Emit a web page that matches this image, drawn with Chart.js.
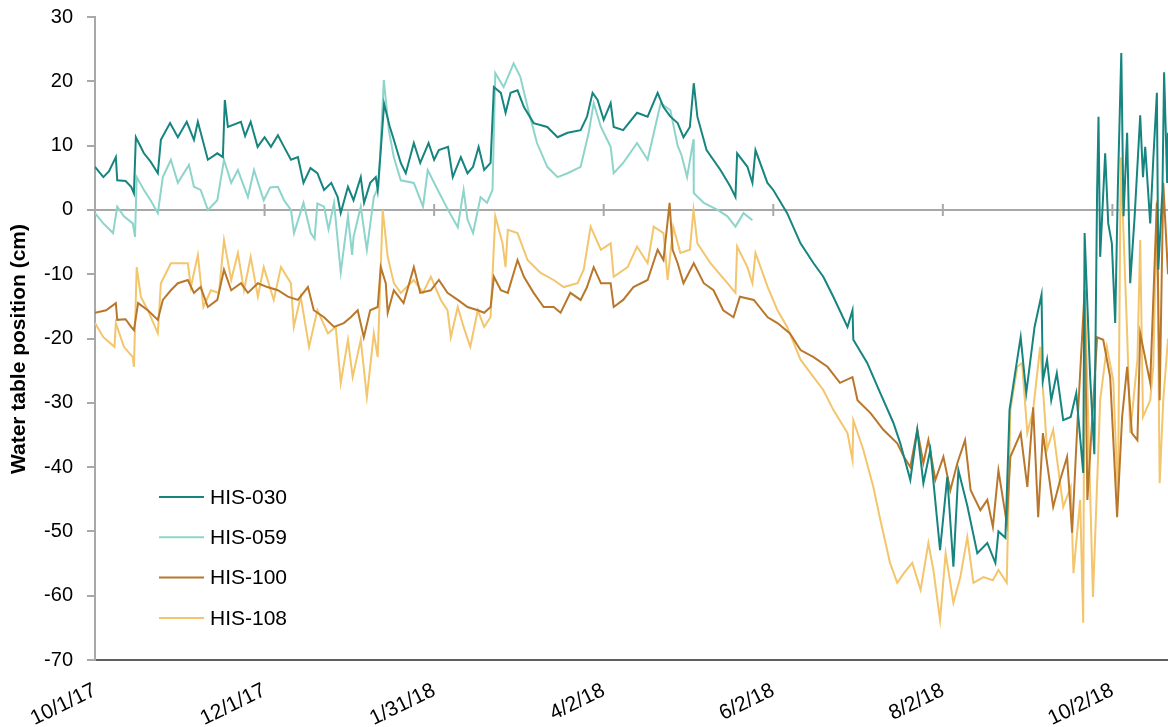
<!DOCTYPE html>
<html><head><meta charset="utf-8">
<script src="https://cdn.jsdelivr.net/npm/chart.js@4.4.1/dist/chart.umd.min.js"></script>
<style>html,body{margin:0;padding:0;background:#fff;}canvas{display:block;}</style>
</head><body>
<canvas id="c" width="1168" height="727"></canvas>
<script>
// ---- data (x = days since 10/1/17, y = water table position, cm) ----
const seriesNames = ['HIS-030', 'HIS-059', 'HIS-100', 'HIS-108'];
const tickDays = [0, 61, 122, 183, 244, 305, 366];
const tickLabels = ['10/1/17', '12/1/17', '1/31/18', '4/2/18', '6/2/18', '8/2/18', '10/2/18'];
const yTicks = [-70, -60, -50, -40, -30, -20, -10, 0, 10, 20, 30];
const yTitle = 'Water table position (cm)';

const his030 = [[0,6.7],[3,5.1],[5,6.0],[7.5,8.2],[8,4.6],[11,4.5],[13,3.6],[14,2.6],[14.7,11.3],[17.6,8.8],[20,7.5],[22.6,5.7],[23.7,10.9],[27,13.5],[29.8,11.3],[33,13.7],[35.6,10.9],[37,13.7],[40.6,7.8],[44,8.8],[46,8.2],[46.7,17.1],[47.8,12.9],[52.5,13.7],[54,11.5],[56,13.7],[58.5,9.8],[61,11.3],[63.3,9.8],[65.8,11.6],[68,9.8],[70.5,7.8],[73,8.2],[75,4.2],[77.5,6.5],[80,5.7],[82.4,3.1],[85,4.2],[87.3,2.0],[88.4,-0.5],[91,3.6],[93,1.5],[95.6,5.1],[96.8,1.1],[99,4.2],[101,5.1],[101.7,3.1],[102.8,9.3],[104,16.5],[106,13],[107.5,10.9],[110,7.3],[111.8,5.7],[114.7,10.4],[117,7.3],[120,10.4],[122,7.8],[123.7,9.3],[127,9.8],[128.7,5.1],[131.6,8.2],[134,5.7],[136,6.7],[138,9.8],[140,6.2],[142.3,7.3],[143.5,19.1],[146,18.2],[147.7,15.1],[149.5,18.2],[152,18.6],[154.3,16.0],[157.8,13.5],[162.7,12.9],[166.4,11.3],[170,12.0],[174.7,12.4],[177,14.5],[179,18.2],[180.8,17.1],[183,14.0],[185.5,16.6],[186.6,12.9],[190,12.4],[195,15.1],[198.8,14.5],[202.4,18.2],[204.5,16.0],[207,14.5],[209.6,13.5],[211.7,11.3],[214,12.9],[215.4,19.7],[216.7,14.5],[220,9.3],[225,6.2],[228.6,3.6],[230.4,2.0],[231,8.8],[234.7,6.7],[236.5,4.2],[237.6,9.3],[241.9,4.2],[244,3.1],[249,-0.5],[253.8,-5.2],[258.5,-8.3],[262,-10.4],[265.6,-13.5],[270.7,-18.2],[272.5,-15.6],[272.8,-20.2],[277.8,-23.8],[282.5,-28.5],[287.2,-33.1],[289.7,-36.3],[293.3,-42.0],[295.8,-34.2],[298,-42.5],[300.5,-37.3],[304,-52.9],[306.6,-41.5],[308.8,-55.5],[310.6,-40.5],[313.8,-46],[317.4,-53.4],[321,-51.8],[323.9,-54.9],[325,-50],[327.5,-51],[329,-31.1],[331,-25.4],[333,-19.8],[335,-28.5],[338,-18.2],[340.5,-13.2],[341,-26.5],[342.5,-23.3],[344,-29.6],[346,-25.4],[348.3,-32.7],[351,-32.2],[353,-28.5],[355.5,-40.9],[356,-3.6],[358,-26],[359.5,-38],[360.5,3.1],[361,14.5],[361.6,-7.3],[363.4,8.8],[364.5,-2.1],[365.8,-5.2],[367,-17.6],[368,4.2],[369.2,24.4],[370,-1.0],[371.3,12.0],[372.4,-11.4],[374,-1],[376,14.7],[377,5.1],[377.8,9.8],[379.6,-2.1],[380.7,7.8],[382,18.2],[382.5,-9.3],[384,3.1],[384.6,21.4],[385.7,4.2],[386,12]];

const his059 = [[0,-0.5],[3,-2.1],[6.5,-3.6],[8,0.5],[10.4,-1.0],[13.6,-2.1],[14.4,-4.2],[15,5.1],[17.6,3.1],[20,1.5],[22.6,-0.5],[24.4,5.1],[27.3,7.8],[29.8,4.2],[33.8,7.0],[35.6,3.6],[38,3.1],[40.6,0],[44,1.5],[46.4,7.8],[49,4.2],[51.4,6.2],[55,2.0],[57.2,6.2],[60.7,1.5],[63,3.5],[65.8,3.6],[68,1.5],[70.5,0],[71.6,-3.6],[75,1.1],[77.6,-3.6],[79,-4.5],[80,1.0],[82.4,0.5],[84,-3],[86,1.1],[88.4,-9.7],[91,-1],[92.5,-7],[93,-4.2],[95.6,0.5],[97.8,-6.2],[100.3,2.0],[102,3.6],[103.9,20.2],[105.7,12.4],[107.5,8.2],[110,4.6],[114.7,4.2],[118,0.5],[119.7,6.2],[123.3,3.1],[127,0],[130.5,-2.7],[132.6,3.1],[134,-1.5],[136,-3.6],[138.7,2.0],[141,1.1],[143,3.1],[144,21.3],[147,19.1],[150.6,22.8],[153,20.7],[155.6,16.0],[159,10.4],[162.7,6.7],[166.4,5.1],[170,5.7],[174.7,6.7],[177.6,12.0],[179.4,16.6],[182,12.9],[185.5,9.8],[186.6,5.7],[190,7.3],[195,10.4],[198.8,7.8],[203.5,16.6],[207,15.5],[209.6,10],[211,8.5],[213,5.1],[215.3,11],[215.4,2.6],[219,1.1],[224,0],[227.5,-1.0],[230.4,-2.6],[233.3,-0.5],[236.5,-1.6]];

const his100 = [[0,-16.0],[4,-15.6],[7.5,-14.5],[8,-17.1],[11,-17],[13,-18.2],[14,-18.7],[15.5,-14.5],[19,-15.6],[22.6,-17.1],[24.4,-14.0],[27.3,-12.5],[29.8,-11.4],[33.4,-10.9],[35.6,-12.9],[38,-12.0],[40.6,-15.1],[44,-14.0],[46.4,-9.3],[49,-12.5],[52.5,-11.4],[55,-12.9],[58.6,-11.4],[62,-12.0],[65.8,-12.5],[69.4,-13.5],[73,-14.0],[76.6,-12.0],[78.7,-15.6],[82.4,-16.7],[86,-18.2],[89.5,-17.6],[92,-16.7],[94.5,-15.6],[96.7,-19.8],[99,-15.6],[101.7,-15.1],[102.8,-8.9],[104.6,-11.4],[105.3,-16.0],[107.5,-12.5],[111,-14.5],[114.7,-8.9],[117,-12.9],[120.8,-12.5],[123.7,-10.9],[126.8,-12.9],[130.5,-14.0],[134,-15.1],[137.7,-15.6],[140,-16.0],[142.3,-15.1],[143.5,-10.4],[146,-12.5],[148.5,-12.9],[152,-7.8],[154.3,-10.4],[157.8,-12.9],[161.4,-15.1],[165,-15.1],[167.5,-16.0],[171,-12.9],[174.7,-14.0],[177,-12.0],[179.4,-8.9],[182,-11.4],[185.5,-11.4],[186.6,-15.1],[190,-14.0],[193.7,-12.0],[198.8,-10.9],[202.4,-6.2],[204.5,-7.8],[206.7,1.1],[207.8,-6.2],[209.6,-8.3],[211.7,-11.4],[215.4,-8.3],[219,-11.4],[222.5,-12.5],[226,-15.6],[229.7,-16.7],[232,-13.5],[237,-14.0],[242,-16.7],[245.5,-17.6],[250,-19.2],[253.8,-21.8],[258.5,-22.9],[263.5,-24.4],[268,-26.9],[272.5,-26.0],[274.3,-29.6],[279,-31.6],[283.6,-34.2],[288.6,-36.3],[291,-38.4],[293.3,-40],[295.8,-34.2],[298,-39.4],[299.8,-35.8],[302.3,-42.0],[305.2,-38.4],[307.7,-43.6],[310.2,-39.4],[313,-35.8],[315,-43.6],[318.5,-46.7],[321,-45.1],[323,-49.3],[325,-40.5],[328,-48.7],[329.3,-38.4],[333,-34.7],[335.4,-43.1],[337.5,-30.7],[339.3,-47.8],[341,-34.7],[344.7,-46.2],[347.2,-42.0],[349.7,-38.4],[351.5,-50.2],[353.3,-34.2],[356,-12.5],[357,-45.1],[360.5,-19.8],[362.7,-20.2],[365.2,-26.0],[367.7,-47.8],[369.5,-32.2],[371.3,-24.4],[373,-34.7],[375,-35.8],[376,-19.2],[379.6,-26.9],[382,1.1],[383,-29.6],[384.3,4.2],[386,-10]];

const his108 = [[0,-17.6],[3,-19.8],[7,-21.3],[7.5,-17.6],[10.4,-21.3],[13.6,-22.9],[14,-24.4],[15,-8.9],[16.5,-13.5],[19,-15.6],[22.6,-19.2],[23.7,-11.4],[27.3,-8.3],[31,-8.3],[33.4,-8.3],[34.5,-12.0],[37,-7.0],[39,-15.1],[41.7,-12.5],[44.6,-12.9],[46.4,-4.7],[49,-10.9],[51.4,-6.7],[53.6,-12.5],[56,-7.3],[58.6,-13.5],[60.7,-8.9],[64.3,-14.0],[66.9,-8.9],[70.5,-11.4],[71.5,-18.2],[74,-13.5],[77,-21.3],[80,-15.6],[83.8,-19.2],[86.6,-18.2],[88.4,-26.9],[91,-20.2],[92.7,-26.0],[95.6,-20.2],[97.8,-29.1],[100.3,-19.2],[101.7,-22.9],[103.5,0],[105.3,-7.3],[107.5,-11.4],[110,-12.9],[114.7,-10.9],[118,-12.9],[120.8,-10.4],[124.4,-14],[126.8,-15.6],[128,-19.8],[130.5,-15.1],[132.6,-18.2],[135,-21.3],[137.7,-15.6],[140,-18.2],[142.3,-16.7],[144,-1.0],[146.6,-5.2],[147.7,-8.9],[148.5,-3.1],[152,-3.6],[155.6,-7.8],[160.3,-9.8],[165,-10.9],[168.6,-12.0],[173.6,-11.4],[175.8,-9.3],[178.3,-2.6],[182,-6.2],[185.5,-5.2],[186.6,-10.4],[191.6,-8.9],[195,-5.7],[198.8,-8.3],[201,-2.6],[204.5,-3.6],[206,-10.9],[208,-2.6],[210.6,-6.7],[214,-6.2],[215.3,0],[216.7,-5.2],[221.4,-8.3],[227.5,-11.4],[230.4,-12.9],[231,-5.7],[234.7,-8.9],[236.5,-11.4],[237.6,-6.7],[242,-12.0],[245.5,-15.6],[249,-18.2],[253.8,-23.3],[258.5,-26.0],[262,-28.0],[265.6,-31.1],[270.7,-34.7],[272.5,-38.9],[272.8,-32.7],[276.4,-37.3],[280,-43.1],[282.5,-48.2],[286,-54.9],[288.6,-58],[291,-56.5],[294,-54.9],[297,-59.1],[299.8,-51.8],[301.6,-56],[304,-63.8],[306,-53.4],[308.8,-61.1],[311.3,-57.1],[313.8,-50.9],[316,-58],[319.6,-57.1],[323,-57.6],[325,-56],[328,-58],[329.3,-31.1],[331.8,-24.4],[333.5,-23.8],[335.4,-34.7],[337.5,-31.1],[340,-21.3],[342.5,-37.3],[344.7,-34.2],[348.3,-46.2],[351,-43.1],[352,-56.5],[354.4,-45.1],[355.5,-64.2],[356,-11.4],[359,-60.2],[361.6,-29.6],[364,-21.3],[366.3,-26.5],[368,-45.1],[369,8.2],[371.3,-19.2],[372.4,-34.7],[375,-23.3],[376,-4.7],[377,-32.2],[379.6,-29.6],[380.7,-24.4],[382,1.5],[383,-42.5],[384.3,-29.6],[386,-20]];

const seriesData = [his030, his059, his100, his108];
const seriesColors = ['#16847f', '#8dd5cb', '#b9772b', '#f3c56c'];

const FONT = '"Liberation Sans", Arial, Helvetica, sans-serif';

const zeroLine = {
  id: 'zeroLine',
  beforeDatasetsDraw(chart) {
    const { ctx, chartArea, scales } = chart;
    const y0 = scales.y.getPixelForValue(0);
    ctx.save();
    ctx.strokeStyle = '#a8a8a8';
    ctx.lineWidth = 2;
    ctx.beginPath();
    ctx.moveTo(chartArea.left, y0);
    ctx.lineTo(chartArea.right, y0);
    tickDays.forEach(d => {
      const x = scales.x.getPixelForValue(d);
      ctx.moveTo(x, y0 - 6);
      ctx.lineTo(x, y0 + 6);
    });
    ctx.stroke();
    ctx.restore();
  }
};

const yTitlePlugin = {
  id: 'yTitlePlugin',
  afterDraw(chart) {
    const { ctx } = chart;
    ctx.save();
    ctx.translate(19, 349);
    ctx.rotate(-Math.PI / 2);
    ctx.font = 'bold 21px ' + FONT;
    ctx.fillStyle = '#000';
    ctx.textAlign = 'center';
    ctx.textBaseline = 'middle';
    ctx.fillText(yTitle, 0, 0);
    ctx.restore();
  }
};

const insideLegend = {
  id: 'insideLegend',
  afterDraw(chart) {
    const { ctx } = chart;
    ctx.save();
    ctx.font = '21px ' + FONT;
    ctx.textBaseline = 'middle';
    ctx.textAlign = 'left';
    seriesNames.forEach((name, i) => {
      const y = 497 + i * 40.3;
      ctx.strokeStyle = seriesColors[i];
      ctx.lineWidth = 2;
      ctx.beginPath();
      ctx.moveTo(159, y);
      ctx.lineTo(204, y);
      ctx.stroke();
      ctx.fillStyle = '#000';
      ctx.fillText(name, 210, y + 1);
    });
    ctx.restore();
  }
};

new Chart(document.getElementById('c'), {
  type: 'line',
  data: {
    datasets: seriesNames.map((name, i) => ({
      label: name,
      data: seriesData[i].map(p => ({ x: p[0], y: p[1] })),
      borderColor: seriesColors[i],
      backgroundColor: seriesColors[i],
      borderWidth: 2,
      pointRadius: 0,
      tension: 0,
      fill: false
    }))
  },
  options: {
    responsive: false,
    animation: false,
    devicePixelRatio: 1,
    layout: { padding: { top: 17, right: 0, bottom: 0, left: 0 } },
    plugins: { legend: { display: false }, tooltip: { enabled: false } },
    scales: {
      x: {
        type: 'linear', min: 0, max: 386,
        afterBuildTicks: s => { s.ticks = tickDays.map(v => ({ value: v })); },
        afterFit: s => { s.height = 67; },
        ticks: {
          autoSkip: false, minRotation: 26, maxRotation: 26, padding: 18,
          color: '#000', font: { family: FONT, size: 21 },
          callback: v => { const i = tickDays.indexOf(v); return i >= 0 ? tickLabels[i] : ''; }
        },
        grid: { display: true, drawOnChartArea: false, drawTicks: false },
        border: { display: true, color: '#5e5e5e', width: 2 }
      },
      y: {
        min: -70, max: 30,
        afterBuildTicks: s => { s.ticks = yTicks.map(v => ({ value: v })); },
        afterFit: s => { s.width = 95; s.paddingTop = 0; s.paddingBottom = 0; },
        ticks: { padding: 14, color: '#000', font: { family: FONT, size: 20 } },
        grid: { drawOnChartArea: false, drawTicks: true, tickLength: 8, color: '#a8a8a8', lineWidth: 2 },
        border: { display: true, color: '#a8a8a8', width: 2 },
        title: { display: false }
      }
    }
  },
  plugins: [zeroLine, insideLegend, yTitlePlugin]
});
</script>
</body></html>
